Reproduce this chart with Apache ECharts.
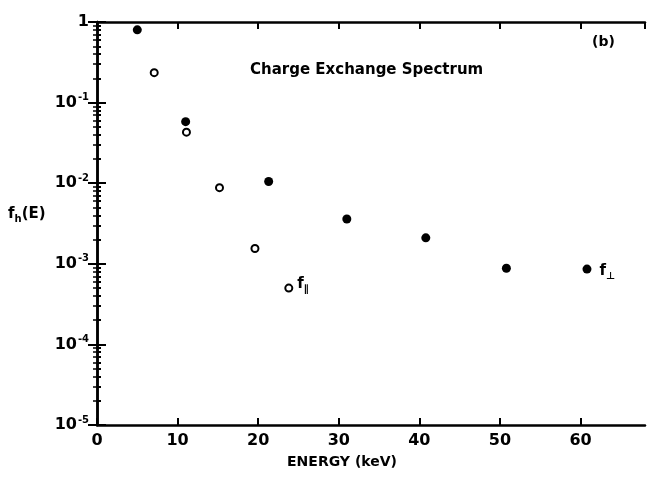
<!DOCTYPE html>
<html><head><meta charset="utf-8">
<script src="https://cdn.jsdelivr.net/npm/echarts@6/dist/echarts.min.js"></script>
<style>html,body{margin:0;padding:0;background:#fff}#c{width:655px;height:478px}</style>
</head><body><div id="c"></div>
<script>
// f_perp (filled circles)
const perpEnergy = [5, 11, 21.3, 31, 40.8, 50.8, 60.8];
const perpValues = [0.8, 0.058, 0.0105, 0.0036, 0.0021, 0.00088, 0.00086];
// f_par (open circles)
const parEnergy = [7.1, 11.1, 15.2, 19.6, 23.8];
const parValues = [0.235, 0.043, 0.0088, 0.00155, 0.0005];
const xTicks = [0, 10, 20, 30, 40, 50, 60];
const yTickExps = [0, -1, -2, -3, -4, -5];

const font = '"DejaVu Sans", sans-serif';
const chart = echarts.init(document.getElementById('c'));

function yFmt(v) {
  const e = Math.round(Math.log10(v));
  if (!yTickExps.includes(e)) return '';
  if (e === 0) return '{a|1}';
  return '{a|10}{b|' + e + '}';
}
const rich = {
  a: {fontFamily: font, fontSize: 16, fontWeight: 'bold', color: '#000'},
  b: {fontFamily: font, fontSize: 10, fontWeight: 'bold', color: '#000', verticalAlign: 'top', padding: [0, 0, 10, 1]}
};

const perpData = perpEnergy.map((x, i) => [x, perpValues[i]]);
const parData = parEnergy.map((x, i) => [x, parValues[i]]);
const subRich = {
  f: {fontFamily: font, fontSize: 15, fontWeight: 'bold', color: '#000'},
  s: {fontFamily: font, fontSize: 10, fontWeight: 'bold', color: '#000', padding: [10, 0, 0, 0]}
};
parData[parData.length - 1] = {value: parData[parData.length - 1], label: {show: true, position: 'right', distance: 4, formatter: '{f|f}{s|∥}', rich: subRich, offset: [0, -4]}};
perpData[perpData.length - 1] = {value: perpData[perpData.length - 1], label: {show: true, position: 'right', distance: 8, formatter: '{f|f}{s|⊥}', rich: subRich, offset: [0, 2]}};

const axisLine = {show: true, lineStyle: {color: '#000', width: 2.5}};
chart.setOption({
  animation: false,
  backgroundColor: '#fff',
  grid: {left: 97, right: 10, top: 22, bottom: 53, containLabel: false},
  graphic: [
    {type: 'text', left: 250, top: 63, style: {text: 'Charge Exchange Spectrum', font: 'bold 15px ' + font, fill: '#000'}},
    {type: 'text', left: 592, top: 35, style: {text: '(b)', font: 'bold 14px ' + font, fill: '#000'}},
    {type: 'text', left: 8, top: 207, style: {text: '{f|f}{s|h}{f|(E)}', rich: subRich}}
  ],
  xAxis: [
    {type: 'value', min: 0, max: 68, interval: 10, position: 'bottom',
     name: 'ENERGY (keV)', nameLocation: 'middle', nameGap: 30,
     nameTextStyle: {fontFamily: font, fontSize: 14, fontWeight: 'bold', color: '#000', padding: [0, 58, 0, 0]},
     axisLine: axisLine, axisTick: {show: true, inside: true, length: 7, lineStyle: {width: 2, color: '#000'}},
     axisLabel: {fontFamily: font, fontSize: 16, fontWeight: 'bold', color: '#000', margin: 8, showMaxLabel: false,
       formatter: v => xTicks.includes(v) ? String(v) : ''},
     splitLine: {show: false}},
    {type: 'value', min: 0, max: 68, interval: 10, position: 'top',
     axisLine: axisLine, axisTick: {show: true, inside: true, length: 7, lineStyle: {width: 2, color: '#000'}},
     axisLabel: {show: false}, splitLine: {show: false}}
  ],
  yAxis: [
    {type: 'log', min: 1e-5, max: 1, logBase: 10, position: 'left',
     axisLine: axisLine,
     axisTick: {show: true, inside: true, length: 9, lineStyle: {width: 2, color: '#000'}},
     minorTick: {show: true, splitNumber: 9, length: 4, lineStyle: {width: 2, color: '#000'}},
     axisLabel: {formatter: yFmt, rich: rich, margin: 8},
     splitLine: {show: false}, minorSplitLine: {show: false}},
    {type: 'log', min: 1e-5, max: 1, logBase: 10, position: 'right',
     axisLine: axisLine,
     axisTick: {show: true, inside: true, length: 9, lineStyle: {width: 2, color: '#000'}},
     minorTick: {show: true, splitNumber: 9, length: 4, lineStyle: {width: 1.5, color: '#000'}},
     axisLabel: {show: false}, splitLine: {show: false}}
  ],
  series: [
    {name: 'f_perp', type: 'scatter', xAxisIndex: 0, yAxisIndex: 0, data: perpData,
     symbol: 'circle', symbolSize: 9, itemStyle: {color: '#000', opacity: 1}},
    {name: 'f_par', type: 'scatter', xAxisIndex: 0, yAxisIndex: 0, data: parData,
     symbol: 'circle', symbolSize: 7, itemStyle: {color: '#fff', borderColor: '#000', borderWidth: 2, opacity: 1}}
  ]
});
</script></body></html>
